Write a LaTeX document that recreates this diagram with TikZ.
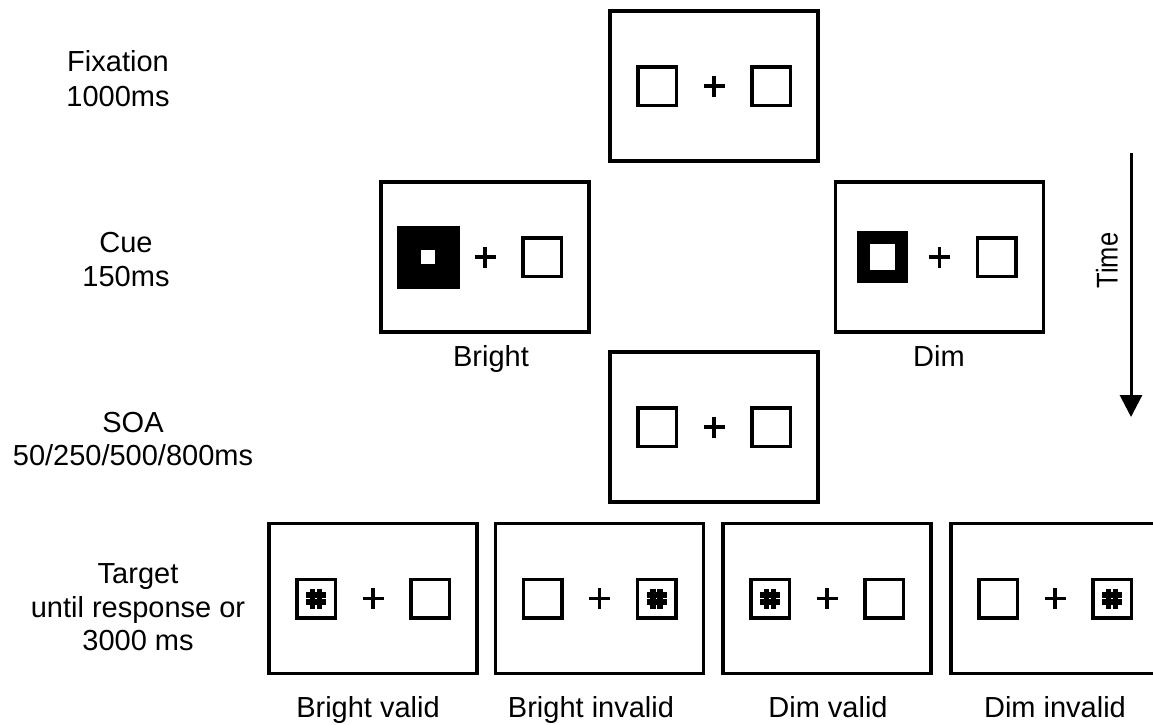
\documentclass[tikz,border=0pt]{standalone}
\usepackage{fontspec}
\setmainfont{Liberation Sans}
\usetikzlibrary{arrows.meta}
\begin{document}
\begin{tikzpicture}[x=1pt,y=-1pt,
  frame/.style={draw,line width=3.5pt,minimum width=208pt,minimum height=150pt,inner sep=0pt,outer sep=0pt},
  sq/.style={draw,line width=3.5pt,minimum size=38.5pt,inner sep=0pt,outer sep=0pt},
  cuebright/.style={sq,line width=24.5pt},
  cuedim/.style={sq,line width=13pt},
  tgt/.style={sq,path picture={\draw[line width=5.5pt,shift={(path picture bounding box.center)}] (-3.6,-10)--(-3.6,10) (3.6,-10)--(3.6,10) (-10,-3.6)--(10,-3.6) (-10,3.6)--(10,3.6);}},
  plusline/.style={line width=3.5pt},
  lbl/.style={font=\fontsize{29}{34}\selectfont,anchor=base,inner sep=0pt},
  pics/screen/.style 2 args={code={
    \node[frame] (-f) at (0,0) {};
    \node[#1] (-l) at (-57,0) {};
    \node[#2] (-r) at (57,0) {};
    \draw[plusline] (-10.5,0) -- (10.5,0) (0,-10.5) -- (0,10.5);
  }}
]
\useasboundingbox (0,0) rectangle (1153,724);
\fill[white] (0,0) rectangle (1153,724);
\clip (0,0) rectangle (1153,724);

\pic (fix) at (714,86) {screen={sq}{sq}};
\pic (cb) at (485,257) {screen={cuebright}{sq}};
\pic (cd) at (939.5,257) {screen={cuedim}{sq}};
\pic (soa) at (714,427) {screen={sq}{sq}};
\pic (tbv) at (373,598.5) {screen={tgt}{sq}};
\pic (tbi) at (599.5,598.5) {screen={sq}{tgt}};
\pic (tdv) at (827,598.5) {screen={tgt}{sq}};
\pic (tdi) at (1055,598.5) {screen={sq}{tgt}};

\node[lbl] (fixa) at (118,71) {Fixation};
\node[lbl] (fixb) at (118,106) {1000ms};
\node[lbl] (cuea) at (126,252) {Cue};
\node[lbl] (cueb) at (126,286) {150ms};
\node[lbl] (soaa) at (133,432) {SOA};
\node[lbl] (soab) at (133,465) {50/250/500/800ms};
\node[lbl] (tga) at (138,583) {Target};
\node[lbl] (tgb) at (138,617) {until response or};
\node[lbl] (tgc) at (138,650) {3000 ms};

\node[lbl] (lbright) at (491,366) {Bright};
\node[lbl] (ldim) at (939,366) {Dim};
\node[lbl] (lbv) at (368,717) {Bright valid};
\node[lbl] (lbi) at (591,717) {Bright invalid};
\node[lbl] (ldv) at (828,717) {Dim valid};
\node[lbl] (ldi) at (1055,717) {Dim invalid};

\coordinate (ta) at (1131,153);
\coordinate (tb) at (1131,417);
\draw[line width=3pt,-{Triangle[width=22pt,length=22pt]}] (ta) -- (tb);
\node[rotate=90,font=\fontsize{30}{34}\selectfont,inner sep=0pt] (time) at (1107,260.5) {\scalebox{0.85}[1]{Time}};
\end{tikzpicture}
\end{document}
